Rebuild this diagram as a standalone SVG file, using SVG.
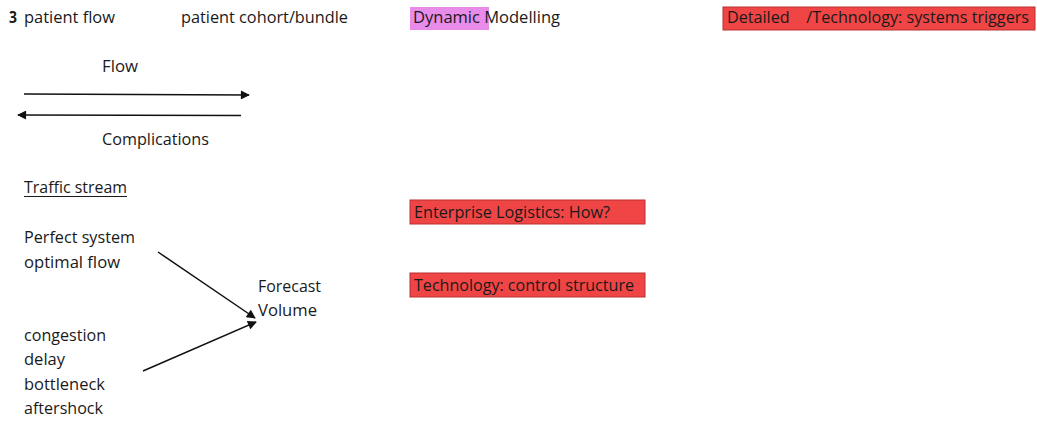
<svg xmlns="http://www.w3.org/2000/svg" width="1037" height="422" viewBox="0 0 1037 422">
<style>
text{font-family:"Open Sans","Liberation Sans",sans-serif;font-size:16px;fill:#1a1a1a}
.red{fill:#f04545;stroke:#b83030;stroke-width:1}
.pink{fill:#e98be9}
.ln{stroke:#111;stroke-width:1.5;fill:none;marker-end:url(#ah)}
</style>
<defs>
<marker id="ah" viewBox="0 0 10 10" refX="9" refY="5" markerWidth="10" markerHeight="9" markerUnits="userSpaceOnUse" orient="auto"><path d="M0,0 L10,5 L0,10 z" fill="#111"/></marker>
</defs>
<rect width="1037" height="422" fill="#fff"/>
<g id="title"><text x="9" y="23" font-weight="bold" textLength="8" lengthAdjust="spacingAndGlyphs">3</text><text x="24" y="23" textLength="91" lengthAdjust="spacingAndGlyphs">patient flow</text></g>
<g id="cohort"><text x="181" y="23" textLength="167" lengthAdjust="spacingAndGlyphs">patient cohort/bundle</text></g>
<g id="dynamic"><rect class="pink" x="410" y="7" width="79" height="23"/><text x="413" y="23" textLength="147" lengthAdjust="spacingAndGlyphs">Dynamic Modelling</text></g>
<g id="detailed"><rect class="red" x="723" y="7" width="312" height="23"/><text x="727" y="23" textLength="302" lengthAdjust="spacingAndGlyphs" xml:space="preserve">Detailed    /Technology: systems triggers</text></g>
<g id="flow"><text x="102" y="72" textLength="36" lengthAdjust="spacingAndGlyphs">Flow</text></g>
<g id="complications"><text x="102" y="145" textLength="107" lengthAdjust="spacingAndGlyphs">Complications</text></g>
<g id="traffic"><text x="24" y="193" textLength="103" lengthAdjust="spacingAndGlyphs">Traffic stream</text><line x1="24" y1="196.5" x2="127" y2="196.5" stroke="#1a1a1a" stroke-width="1"/></g>
<g id="enterprise"><rect class="red" x="410" y="200" width="235" height="24"/><text x="414" y="218" textLength="196" lengthAdjust="spacingAndGlyphs">Enterprise Logistics: How?</text></g>
<g id="techcontrol"><rect class="red" x="410" y="273" width="235" height="24"/><text x="414" y="291" textLength="220" lengthAdjust="spacingAndGlyphs">Technology: control structure</text></g>
<g id="perfect"><text x="24" y="243" textLength="111" lengthAdjust="spacingAndGlyphs">Perfect system</text><text x="24" y="268" textLength="96" lengthAdjust="spacingAndGlyphs">optimal flow</text></g>
<g id="forecast"><text x="258" y="292" textLength="63" lengthAdjust="spacingAndGlyphs">Forecast</text><text x="258" y="316" textLength="59" lengthAdjust="spacingAndGlyphs">Volume</text></g>
<g id="congestion"><text x="24" y="341" textLength="82" lengthAdjust="spacingAndGlyphs">congestion</text><text x="24" y="365" textLength="41" lengthAdjust="spacingAndGlyphs">delay</text><text x="24" y="390" textLength="81" lengthAdjust="spacingAndGlyphs">bottleneck</text><text x="24" y="414" textLength="79" lengthAdjust="spacingAndGlyphs">aftershock</text></g>
<g id="connectors">
<line class="ln" x1="24" y1="94" x2="249" y2="95"/>
<line class="ln" x1="241" y1="115.5" x2="18" y2="115"/>
<line class="ln" x1="158" y1="252" x2="255" y2="318"/>
<line class="ln" x1="143" y1="371" x2="256" y2="322"/>
</g>
</svg>
